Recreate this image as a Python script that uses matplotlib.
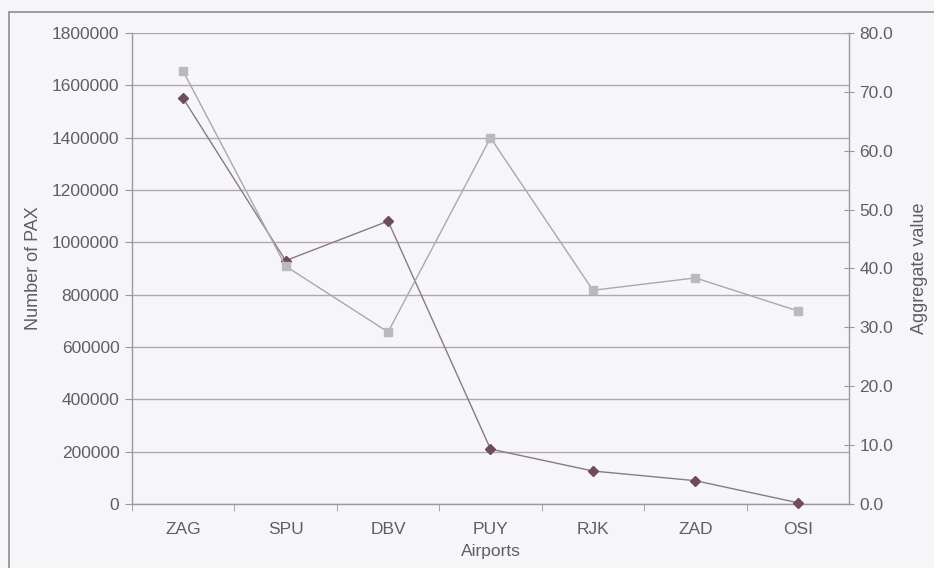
import matplotlib
matplotlib.use("Agg")
import matplotlib.pyplot as plt
from matplotlib.patches import Rectangle
from matplotlib.ticker import FormatStrFormatter, MultipleLocator

#data
airports = ["ZAG", "SPU", "DBV", "PUY", "RJK", "ZAD", "OSI"]
pax = [1550000, 930000, 1081000, 210000, 126000, 89000, 5000]
aggregate = [73.5, 40.4, 29.2, 62.2, 36.3, 38.4, 32.8]

#colours
BG = "#f6f6f9"
TEXT = "#625d62"
GRID = "#b4a8ae"
AXIS = "#9a9a9e"
PAX_COLOR = "#6e4c5a"
PAX_LINE = "#8a7a82"
AGG_COLOR = "#b9b9c2"
AGG_LINE = "#a9a9ad"

plt.rcParams["font.family"] = ["Liberation Sans", "DejaVu Sans"]

fig = plt.figure(figsize=(9.34, 5.68), dpi=100, facecolor=BG)
ax = fig.add_axes([0.1413, 0.1127, 0.7677, 0.8292])
ax.set_facecolor(BG)

#outer chart frame (left and top edges visible in the scan)
fig.patches.append(Rectangle((9 / 934, -0.05), 1.2, 1 - 12 / 568 + 0.05, transform=fig.transFigure,
                             fill=False, edgecolor="#8e8e92", linewidth=1.2, zorder=0))

x = list(range(len(airports)))
ax.set_xlim(-0.5, len(airports) - 0.5)
ax.set_ylim(0, 1800000)
ax.yaxis.set_major_locator(MultipleLocator(200000))
ax.yaxis.set_major_formatter(FormatStrFormatter("%d"))
ax.grid(axis="y", color=GRID, linewidth=1.0)
ax.set_axisbelow(True)

ax.set_xticks(x)
ax.set_xticklabels(airports)
ax.set_xticks([i + 0.5 for i in x[:-1]] + [-0.5], minor=True)
ax.tick_params(axis="x", which="major", length=0, pad=13, labelsize=12.5, labelcolor=TEXT)
ax.tick_params(axis="x", which="minor", length=5, color=AXIS, direction="out")
ax.tick_params(axis="y", length=5, color=AXIS, direction="out", labelsize=12.5, labelcolor=TEXT, pad=4)

for s in ["top", "right"]:
    ax.spines[s].set_visible(False)
for s in ["left", "bottom"]:
    ax.spines[s].set_color(AXIS)
    ax.spines[s].set_linewidth(1.0)

ax.plot(x, pax, color=PAX_LINE, linewidth=1.0, marker="D", markersize=5,
        markerfacecolor=PAX_COLOR, markeredgecolor=PAX_COLOR, zorder=3, clip_on=False)

ax.set_xlabel("Airports", fontsize=12.5, color=TEXT, labelpad=5)
ax.set_ylabel("Number of PAX", fontsize=13, color=TEXT, labelpad=7)

ax2 = ax.twinx()
ax2.set_ylim(0, 80)
ax2.yaxis.set_major_locator(MultipleLocator(10))
ax2.yaxis.set_major_formatter(FormatStrFormatter("%.1f"))
ax2.tick_params(axis="y", length=7, color=AXIS, direction="inout", labelsize=12.5, labelcolor=TEXT, pad=4)
for s in ["top", "left", "bottom"]:
    ax2.spines[s].set_visible(False)
ax2.spines["right"].set_color(AXIS)
ax2.spines["right"].set_linewidth(1.0)

ax2.plot(x, aggregate, color=AGG_LINE, linewidth=1.0, marker="s", markersize=6,
         markerfacecolor=AGG_COLOR, markeredgecolor=AGG_COLOR, zorder=3)
ax2.set_ylabel("Aggregate value", fontsize=13, color=TEXT, labelpad=13)

plt.savefig("out.png", dpi=100, facecolor=BG)
